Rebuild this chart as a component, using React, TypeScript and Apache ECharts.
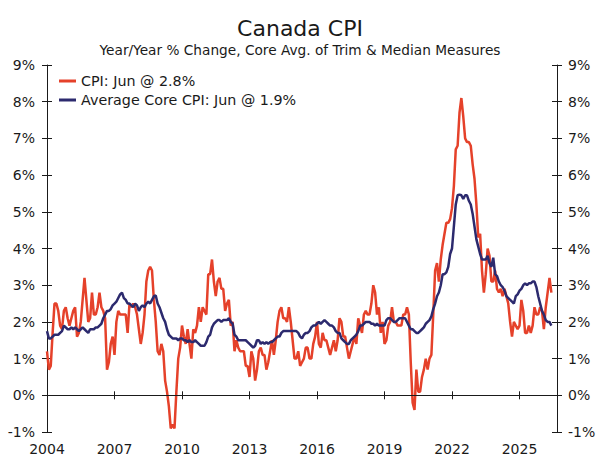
import React, { useEffect, useRef } from "react";
import * as echarts from "echarts";

const START_YEAR = 2004;
const AXIS_MONTHS = 273; // Jan 2004 .. Sep 2026 (axis extent)
const tickYears = [2004, 2007, 2010, 2013, 2016, 2019, 2022, 2025];

const titleText = "Canada CPI";
const subtitleText = "Year/Year % Change, Core Avg. of Trim & Median Measures";
const cpiName = "CPI: Jun @ 2.8%";
const coreName = "Average Core CPI: Jun @ 1.9%";

// Monthly y/y % change, Jan 2004 .. Jun 2026
const cpiValues = [
  1.2, 0.7, 0.8, 1.7, 2.5, 2.5, 2.3, 1.9, 1.8, 2.3, 2.4, 2.1,
  1.9, 2.1, 2.3, 2.4, 1.6, 1.7, 2.0, 2.6, 3.2, 2.6, 2.0, 2.1,
  2.8, 2.2, 2.2, 2.4, 2.8, 2.4, 2.3, 2.1, 0.7, 0.9, 1.4, 1.6,
  1.1, 2.0, 2.3, 2.2, 2.2, 2.2, 2.2, 1.7, 2.5, 2.4, 2.5, 2.4,
  2.2, 1.8, 1.4, 1.7, 2.2, 3.1, 3.4, 3.5, 3.4, 2.6, 2.0, 1.2,
  1.1, 1.4, 1.2, 0.4, 0.1, -0.3, -0.9, -0.8, -0.9, 0.1, 1.0, 1.3,
  1.9, 1.6, 1.4, 1.8, 1.4, 1.0, 1.8, 1.7, 1.9, 2.4, 2.0, 2.4,
  2.3, 2.2, 3.3, 3.3, 3.7, 3.1, 2.7, 3.1, 3.2, 2.9, 2.9, 2.3,
  2.5, 2.6, 1.9, 2.0, 1.2, 1.5, 1.3, 1.2, 1.2, 1.2, 0.8, 0.8,
  0.5, 1.2, 1.0, 0.4, 0.7, 1.2, 1.3, 1.1, 1.1, 0.7, 0.9, 1.2,
  1.5, 1.1, 1.5, 2.0, 2.3, 2.4, 2.1, 2.1, 2.0, 2.4, 2.0, 1.5,
  1.0, 1.0, 1.2, 0.8, 0.9, 1.0, 1.3, 1.3, 1.0, 1.0, 1.4, 1.6,
  2.0, 1.4, 1.3, 1.7, 1.5, 1.5, 1.3, 1.1, 1.3, 1.5, 1.2, 1.5,
  2.1, 2.0, 1.6, 1.6, 1.3, 1.0, 1.2, 1.4, 1.6, 1.4, 2.1, 1.9,
  1.7, 2.2, 2.3, 2.2, 2.2, 2.5, 3.0, 2.8, 2.2, 2.4, 1.7, 2.0,
  1.4, 1.5, 1.9, 2.0, 2.4, 2.0, 2.0, 1.9, 1.9, 1.9, 2.2, 2.2,
  2.4, 2.2, 0.9, -0.2, -0.4, 0.7, 0.1, 0.1, 0.5, 0.7, 1.0, 0.7,
  1.0, 1.1, 2.2, 3.4, 3.6, 3.1, 3.7, 4.1, 4.4, 4.7, 4.7, 4.8,
  5.1, 5.7, 6.7, 6.8, 7.7, 8.1, 7.6, 7.0, 6.9, 6.9, 6.8, 6.3,
  5.9, 5.2, 4.3, 4.4, 3.4, 2.8, 3.3, 4.0, 3.8, 3.1, 3.1, 3.4,
  2.9, 2.8, 2.9, 2.7, 2.9, 2.7, 2.5, 2.0, 1.6, 2.0, 1.9, 1.8,
  1.9, 2.6, 2.3, 1.7, 1.7, 1.9, 1.7, 1.9, 2.4, 2.2, 2.2, 2.4,
  2.3, 1.8, 2.4, 2.8, 3.2, 2.8,
];

const coreValues = [
  1.75, 1.55, 1.55, 1.6, 1.65, 1.65, 1.65, 1.7, 1.75, 1.9, 1.85, 1.8,
  1.8, 1.85, 1.8, 1.85, 1.8, 1.75, 1.8, 1.85, 1.8, 1.75, 1.7, 1.8,
  1.8, 1.8, 1.85, 1.85, 1.9, 1.95, 2.1, 2.2, 2.3, 2.3, 2.35, 2.45,
  2.5, 2.55, 2.65, 2.75, 2.8, 2.65, 2.6, 2.5, 2.5, 2.45, 2.4, 2.5,
  2.45, 2.3, 2.4, 2.45, 2.4, 2.5, 2.55, 2.5, 2.6, 2.7, 2.72, 2.5,
  2.4, 2.25, 2.1, 2.0, 1.8, 1.65, 1.6, 1.55, 1.55, 1.55, 1.5, 1.55,
  1.55, 1.5, 1.5, 1.45, 1.5, 1.45, 1.45, 1.5, 1.45, 1.4, 1.35, 1.35,
  1.35, 1.45, 1.6, 1.65, 1.85, 1.95, 2.0, 2.05, 2.05, 2.0, 2.05, 2.05,
  2.05, 2.1, 2.0, 1.95, 1.65, 1.6, 1.5, 1.5, 1.5, 1.5, 1.5, 1.45,
  1.4, 1.35, 1.3, 1.35, 1.5, 1.5, 1.4, 1.45, 1.4, 1.45, 1.4, 1.45,
  1.45, 1.5, 1.55, 1.6, 1.6, 1.7, 1.75, 1.75, 1.75, 1.75, 1.75, 1.75,
  1.75, 1.75, 1.7, 1.6, 1.55, 1.65, 1.7, 1.7, 1.75, 1.85, 1.9, 1.9,
  1.95, 2.0, 1.95, 2.0, 2.05, 2.0, 1.95, 1.9, 1.9, 1.85, 1.75, 1.7,
  1.7, 1.55, 1.5, 1.45, 1.4, 1.4, 1.5, 1.55, 1.6, 1.65, 1.75, 1.9,
  1.9, 1.95, 2.0, 2.0, 2.0, 1.95, 1.95, 1.9, 1.95, 1.9, 1.9, 1.9,
  1.9, 2.05, 2.1, 2.1, 2.05, 2.0, 2.0, 2.05, 2.1, 2.1, 2.1, 2.1,
  2.0, 1.9, 1.8, 1.8, 1.75, 1.7, 1.7, 1.75, 1.8, 1.85, 1.95, 2.0,
  2.05, 2.15, 2.35, 2.5, 2.7, 2.8, 3.0, 3.3, 3.3, 3.35, 3.5, 3.85,
  4.0, 4.6, 5.2, 5.45, 5.47, 5.45, 5.35, 5.45, 5.45, 5.3, 5.2, 4.95,
  4.6, 4.25, 4.05, 3.85, 3.7, 3.7, 3.7, 3.8, 3.6, 3.5, 3.75, 3.3,
  3.25, 3.1, 3.0, 2.95, 2.85, 2.7, 2.65, 2.6, 2.55, 2.5, 2.7, 2.75,
  2.85, 2.9, 3.0, 3.05, 3.0, 3.05, 3.05, 3.1, 3.1, 2.95, 2.7, 2.5,
  2.3, 2.2, 2.05, 2.0, 2.0, 1.9,
];

const months = Array.from({ length: AXIS_MONTHS }, (_, i) =>
  `${START_YEAR + Math.floor(i / 12)}-${String((i % 12) + 1).padStart(2, "0")}`
);

const isTick = (_idx: number, value: string) => {
  const [y, m] = value.split("-");
  return m === "01" && tickYears.includes(Number(y));
};

const RED = "#E5412A";
const NAVY = "#2C2A6E";
const INK = "#1a1a1a";
const FONT = "DejaVu Sans";

export default function App() {
  const ref = useRef<HTMLDivElement>(null);

  useEffect(() => {
    if (!ref.current) return;
    const chart = echarts.init(ref.current, undefined, { renderer: "svg" });

    const baseX = {
      type: "category" as const,
      data: months,
      boundaryGap: false,
      position: "bottom" as const,
    };
    const baseY = {
      type: "value" as const,
      min: -1,
      max: 9,
      interval: 1,
      splitLine: { show: false },
    };

    chart.setOption({
      animation: false,
      textStyle: { fontFamily: FONT },
      title: [
        {
          text: titleText,
          left: "center",
          top: 17,
          padding: 0,
          textStyle: { fontSize: 22, fontWeight: "normal", color: INK, fontFamily: FONT },
        },
        {
          text: subtitleText,
          left: "center",
          top: 43,
          padding: 0,
          textStyle: { fontSize: 13.7, fontWeight: "normal", color: INK, fontFamily: FONT },
        },
      ],
      legend: {
        orient: "vertical",
        left: 59,
        top: 74,
        padding: 0,
        itemWidth: 17,
        itemHeight: 3,
        itemGap: 5,
        icon: "rect",
        textStyle: { fontSize: 14.3, color: INK, fontFamily: FONT },
        data: [cpiName, coreName],
      },
      grid: { left: 47, right: 43, top: 65, bottom: 28, containLabel: false },
      xAxis: [
        {
          ...baseX,
          axisLine: { show: true, lineStyle: { color: INK, width: 1 } },
          axisTick: { show: true, inside: true, length: 4, interval: isTick, lineStyle: { color: INK } },
          axisLabel: {
            interval: isTick,
            formatter: (v: string) => v.split("-")[0],
            fontSize: 14,
            color: INK,
            margin: 10,
            fontFamily: FONT,
          },
        },
        {
          ...baseX,
          axisLine: { show: false },
          axisTick: { show: true, inside: false, length: 4, interval: isTick, lineStyle: { color: INK } },
          axisLabel: { show: false },
        },
      ],
      yAxis: [
        {
          ...baseY,
          position: "left",
          axisLine: { show: true, lineStyle: { color: INK, width: 1 } },
          axisTick: { show: true, inside: false, length: 5, lineStyle: { color: INK } },
          axisLabel: { formatter: "{value}%", fontSize: 14, color: INK, margin: 12, fontFamily: FONT },
        },
        {
          ...baseY,
          position: "right",
          axisLine: { show: true, lineStyle: { color: INK, width: 1 } },
          axisTick: { show: true, inside: false, length: 5, lineStyle: { color: INK } },
          axisLabel: { formatter: "{value}%", fontSize: 14, color: INK, margin: 11, fontFamily: FONT },
        },
        {
          ...baseY,
          position: "left",
          axisLine: { show: false },
          axisTick: { show: true, inside: true, length: 5, lineStyle: { color: INK } },
          axisLabel: { show: false },
        },
        {
          ...baseY,
          position: "right",
          axisLine: { show: false },
          axisTick: { show: true, inside: true, length: 5, lineStyle: { color: INK } },
          axisLabel: { show: false },
        },
      ],
      series: [
        {
          name: cpiName,
          type: "line",
          data: cpiValues,
          xAxisIndex: 0,
          yAxisIndex: 0,
          showSymbol: false,
          symbol: "none",
          lineStyle: { color: RED, width: 2.5 },
          itemStyle: { color: RED },
          markLine: {
            silent: true,
            symbol: "none",
            label: { show: false },
            lineStyle: { color: INK, width: 1, type: "solid" },
            data: [{ yAxis: 0 }],
          },
        },
        {
          name: coreName,
          type: "line",
          data: coreValues,
          xAxisIndex: 0,
          yAxisIndex: 0,
          showSymbol: false,
          symbol: "none",
          lineStyle: { color: NAVY, width: 2.5 },
          itemStyle: { color: NAVY },
        },
      ],
    });

    return () => chart.dispose();
  }, []);

  return (
    <div
      ref={ref}
      style={{ position: "fixed", left: 0, top: 0, width: 600, height: 460, background: "#fff" }}
    />
  );
}
